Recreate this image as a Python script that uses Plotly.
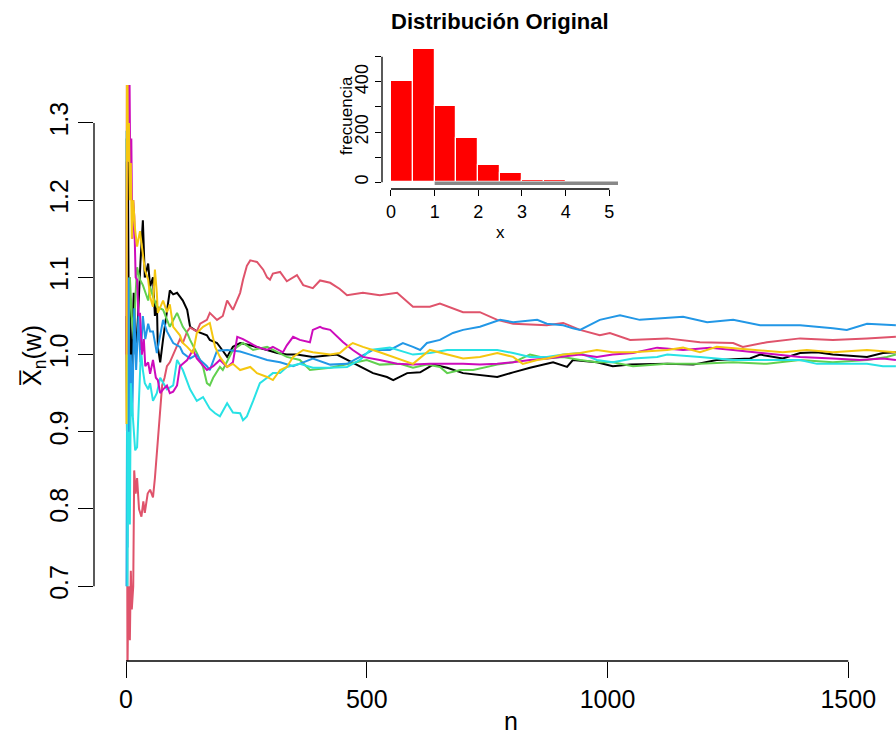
import plotly.graph_objects as go

# ---------------- data ----------------
black_n = [1, 2, 3, 4, 6, 8, 10, 13, 16, 20, 25, 30, 35, 39, 46, 50, 56, 60, 64, 66, 71, 77, 85, 91, 98, 106, 112, 118, 127, 133, 147, 154, 168, 174, 189, 201, 210, 222, 237, 258, 272, 293, 314, 334, 355, 388, 438, 459, 492, 513, 542, 555, 584, 611, 638, 667, 700, 735, 771, 804, 839, 887, 916, 928, 978, 1011, 1047, 1124, 1178, 1227, 1296, 1317, 1364, 1400, 1435, 1468, 1539, 1572, 1599]
black_v = [1.05, 0.9, 1.2, 1.25, 1.0, 1.1, 0.95, 1.02, 1.08, 1.0, 1.05, 1.12, 1.174, 1.10, 1.118, 1.088, 1.1, 1.05, 1.07, 1.01, 0.99, 1.02, 1.06, 1.083, 1.078, 1.08, 1.075, 1.07, 1.058, 1.036, 1.03, 1.028, 1.025, 1.019, 1.015, 1.005, 0.997, 1.01, 1.015, 1.012, 1.01, 1.006, 1.002, 1.0, 1.0, 0.997, 1.0, 0.993, 0.983, 0.976, 0.971, 0.967, 0.976, 0.977, 0.987, 0.983, 0.976, 0.974, 0.971, 0.977, 0.983, 0.99, 0.984, 0.993, 0.99, 0.985, 0.987, 0.988, 0.987, 0.993, 0.995, 1.0, 0.995, 1.002, 1.003, 1.0, 0.997, 1.002, 1.003]

red_n = [1, 2, 3, 4, 6, 8, 10, 12, 15, 17, 20, 23, 27, 32, 36, 39, 45, 50, 56, 60, 64, 68, 72, 75, 80, 85, 91, 98, 106, 112, 118, 127, 133, 147, 154, 168, 174, 189, 201, 210, 222, 237, 243, 251, 258, 272, 285, 293, 299, 305, 320, 334, 355, 368, 388, 403, 424, 444, 459, 492, 527, 563, 596, 631, 652, 700, 735, 771, 804, 874, 908, 943, 984, 1005, 1047, 1124, 1192, 1261, 1281, 1331, 1400, 1468, 1539, 1599]
red_v = [1.25, 0.62, 0.58, 0.65, 0.7, 0.63, 0.72, 0.67, 0.7, 0.85, 0.82, 0.84, 0.8, 0.79, 0.81, 0.795, 0.82, 0.825, 0.815, 0.84, 0.87, 0.9, 0.93, 0.96, 0.97, 0.985, 0.99, 1.0, 1.01, 1.02, 1.015, 1.03, 1.035, 1.03, 1.04, 1.045, 1.054, 1.045, 1.05, 1.07, 1.058, 1.08, 1.097, 1.115, 1.122, 1.12, 1.11, 1.1, 1.097, 1.105, 1.107, 1.095, 1.103, 1.09, 1.086, 1.096, 1.093, 1.085, 1.077, 1.08, 1.077, 1.08, 1.062, 1.062, 1.066, 1.055, 1.055, 1.045, 1.04, 1.038, 1.041, 1.032, 1.025, 1.028, 1.019, 1.021, 1.016, 1.015, 1.01, 1.016, 1.021, 1.019, 1.021, 1.023]

green_n = [1, 2, 3, 5, 8, 12, 16, 20, 23, 29, 35, 46, 50, 56, 64, 77, 85, 91, 106, 118, 127, 133, 147, 160, 168, 174, 181, 195, 201, 222, 243, 264, 293, 334, 361, 382, 424, 459, 500, 527, 569, 596, 625, 652, 667, 694, 721, 771, 804, 839, 874, 908, 943, 978, 1011, 1053, 1124, 1192, 1261, 1331, 1400, 1468, 1539, 1580, 1599]
green_v = [1.28, 0.95, 1.05, 0.98, 1.1, 1.05, 1.02, 1.08, 1.113, 1.097, 1.09, 1.07, 1.088, 1.075, 1.062, 1.058, 1.045, 1.036, 1.054, 1.036, 1.028, 1.019, 1.002, 0.984, 0.963, 0.96, 0.97, 0.984, 0.98, 1.006, 1.015, 1.006, 1.01, 0.997, 0.993, 0.98, 0.983, 0.988, 0.993, 0.987, 0.988, 0.983, 0.987, 0.984, 0.976, 0.98, 0.98, 0.987, 0.99, 1.0, 0.995, 0.997, 0.993, 0.99, 0.99, 0.985, 0.988, 0.988, 0.99, 0.988, 0.993, 0.99, 0.993, 0.997, 1.0]

blue_n = [1, 2, 3, 5, 7, 10, 13, 17, 21, 26, 30, 35, 40, 46, 50, 56, 64, 77, 85, 98, 112, 118, 133, 147, 154, 168, 174, 189, 210, 237, 258, 293, 320, 347, 368, 388, 424, 459, 486, 513, 548, 575, 596, 611, 625, 652, 679, 700, 735, 762, 777, 804, 854, 874, 908, 928, 943, 984, 1011, 1026, 1067, 1157, 1207, 1261, 1317, 1400, 1468, 1497, 1539, 1599]
blue_v = [0.7, 0.9, 0.75, 1.1, 0.85, 1.0, 0.92, 1.06, 0.98, 1.05, 0.99, 1.05, 1.02, 1.04, 1.03, 1.03, 1.002, 1.045, 1.03, 1.015, 1.01, 1.002, 0.995, 1.0, 0.993, 0.985, 0.98, 1.005, 1.006, 1.004, 1.0, 0.993, 0.99, 0.985, 0.99, 0.995, 0.987, 0.988, 0.997, 1.006, 1.006, 1.015, 1.01, 1.006, 1.015, 1.019, 1.028, 1.032, 1.036, 1.042, 1.045, 1.042, 1.045, 1.04, 1.038, 1.034, 1.032, 1.045, 1.049, 1.051, 1.045, 1.049, 1.042, 1.045, 1.038, 1.038, 1.034, 1.032, 1.04, 1.038]

cyan_n = [1, 2, 3, 4, 6, 8, 10, 13, 16, 19, 23, 27, 31, 35, 39, 46, 50, 56, 64, 71, 85, 98, 106, 118, 133, 147, 160, 174, 185, 195, 210, 222, 237, 243, 251, 264, 278, 293, 305, 320, 334, 361, 388, 424, 459, 486, 507, 548, 596, 631, 667, 700, 735, 771, 804, 839, 874, 908, 943, 978, 1011, 1053, 1103, 1124, 1192, 1261, 1331, 1400, 1435, 1468, 1539, 1572, 1599]
cyan_v = [1.29, 0.75, 0.7, 0.85, 0.9, 0.78, 0.963, 0.93, 0.9, 0.876, 0.88, 0.95, 1.006, 0.98, 0.963, 0.955, 0.963, 0.94, 0.95, 0.97, 0.955, 0.96, 0.993, 0.98, 0.955, 0.94, 0.945, 0.93, 0.924, 0.92, 0.937, 0.925, 0.924, 0.915, 0.92, 0.94, 0.963, 0.97, 0.976, 0.976, 0.984, 0.988, 0.983, 0.983, 0.984, 0.993, 1.006, 1.009, 1.0, 1.002, 1.006, 1.006, 1.006, 1.006, 1.002, 0.997, 0.997, 1.0, 1.002, 0.993, 0.99, 0.995, 0.997, 1.0, 0.997, 0.993, 0.993, 0.993, 0.988, 0.988, 0.988, 0.985, 0.985]

magenta_n = [1, 2, 3, 4, 5, 7, 9, 11, 13, 15, 17, 20, 23, 26, 29, 33, 37, 40, 46, 50, 56, 62, 66, 71, 77, 85, 91, 98, 106, 112, 127, 139, 147, 154, 168, 181, 195, 210, 222, 231, 243, 258, 272, 293, 305, 326, 334, 347, 361, 382, 388, 403, 409, 424, 438, 451, 471, 492, 527, 563, 596, 631, 667, 700, 735, 771, 804, 839, 874, 908, 943, 978, 1011, 1053, 1103, 1157, 1213, 1261, 1310, 1364, 1400, 1468, 1524, 1572, 1599]
magenta_v = [1.0, 1.4, 1.36, 1.38, 1.3, 1.38, 1.22, 1.28, 1.15, 1.2, 1.18, 1.1, 1.097, 1.05, 1.054, 1.0, 1.02, 0.985, 0.99, 0.975, 0.993, 0.97, 0.967, 0.95, 0.955, 0.96, 0.95, 0.952, 0.96, 0.985, 0.993, 1.006, 0.995, 0.99, 0.98, 0.985, 0.993, 0.984, 0.99, 1.023, 1.02, 1.015, 1.01, 1.006, 1.01, 1.003, 1.012, 1.023, 1.019, 1.016, 1.032, 1.036, 1.034, 1.032, 1.023, 1.016, 1.006, 0.997, 0.993, 0.988, 0.987, 0.988, 0.988, 0.988, 0.987, 0.988, 0.99, 0.993, 0.995, 0.997, 1.0, 0.997, 1.0, 1.002, 1.009, 1.006, 1.009, 1.006, 1.003, 1.0, 0.997, 0.995, 0.993, 0.995, 0.993]

yellow_n = [1, 2, 3, 4, 6, 8, 10, 12, 15, 19, 23, 29, 35, 39, 46, 50, 56, 60, 64, 66, 77, 85, 91, 98, 112, 118, 127, 139, 147, 160, 174, 185, 195, 210, 222, 237, 258, 272, 293, 305, 320, 334, 347, 368, 388, 424, 444, 459, 471, 492, 527, 555, 596, 631, 667, 700, 735, 771, 804, 824, 854, 874, 908, 943, 978, 1011, 1053, 1124, 1157, 1192, 1227, 1296, 1364, 1414, 1468, 1539, 1599]
yellow_v = [0.91, 1.5, 1.38, 1.25, 1.3, 1.2, 1.248, 1.15, 1.2, 1.161, 1.14, 1.16, 1.13, 1.11, 1.097, 1.075, 1.062, 1.11, 1.08, 1.054, 1.07, 1.055, 1.065, 1.036, 1.025, 1.015, 1.01, 1.002, 1.028, 1.036, 1.041, 1.01, 0.997, 0.984, 0.988, 0.98, 0.984, 0.976, 0.971, 0.967, 0.98, 0.984, 0.997, 1.006, 1.003, 1.0, 1.002, 1.01, 1.015, 1.01, 1.003, 0.997, 0.988, 1.006, 1.0, 0.995, 0.997, 1.002, 0.997, 0.988, 0.993, 0.995, 1.0, 1.002, 1.006, 1.003, 1.003, 1.006, 1.009, 1.003, 1.01, 1.006, 1.003, 1.006, 1.003, 1.006, 1.003]

series = [
    ("black", black_n, black_v, "#000000"),
    ("red", red_n, red_v, "#DF536B"),
    ("green", green_n, green_v, "#61D04F"),
    ("blue", blue_n, blue_v, "#2297E6"),
    ("cyan", cyan_n, cyan_v, "#28E2E5"),
    ("magenta", magenta_n, magenta_v, "#CD0BBC"),
    ("yellow", yellow_n, yellow_v, "#F5C710"),
]

# histogram of the original distribution
hist_left = [0.0, 0.5, 1.0, 1.5, 2.0, 2.5, 3.0, 3.5, 4.0, 4.5]
hist_counts = [404, 532, 303, 176, 70, 36, 10, 8, 2, 1]
main_xticks = [0, 500, 1000, 1500]
main_yticks = [0.7, 0.8, 0.9, 1.0, 1.1, 1.2, 1.3]
inset_xticks = [0, 1, 2, 3, 4, 5]
inset_ylabeled = [0, 200, 400]
inset_yminor = [100, 300, 500]
baseline_x = [1.0, 5.2]
baseline_y = [-4, -4]

# ---------------- figure ----------------
W, H = 896, 734
FONT = "Liberation Sans, Arial, Helvetica, sans-serif"

fig = go.Figure()
for name, xs, ys, col in series:
    fig.add_trace(go.Scatter(x=xs, y=ys, mode="lines", name=name,
                             line=dict(color=col, width=2), xaxis="x", yaxis="y",
                             showlegend=False, hoverinfo="skip"))

fig.add_trace(go.Bar(x=[l + 0.25 for l in hist_left], y=hist_counts, width=0.5,
                     marker=dict(color="#FF0000", line=dict(color="white", width=1.2)),
                     xaxis="x2", yaxis="y2", showlegend=False, hoverinfo="skip"))
fig.add_trace(go.Scatter(x=baseline_x, y=baseline_y, mode="lines",
                         line=dict(color="#888888", width=3.5), xaxis="x2", yaxis="y2",
                         showlegend=False, hoverinfo="skip"))

def px_x(p):
    return p / W

def px_y(p):
    return (H - p) / H

axis_common = dict(showgrid=False, zeroline=False, showline=False, ticks="outside",
                   tickcolor="black", tickwidth=1.3, automargin=False)

fig.update_layout(
    width=W, height=H,
    margin=dict(l=0, r=0, t=0, b=0, autoexpand=False),
    paper_bgcolor="white", plot_bgcolor="white",
    bargap=0,
    xaxis=dict(domain=[px_x(94), 1.0], range=[-66.5, 1599.2],
               tickvals=main_xticks, ticktext=[str(v) for v in main_xticks],
               ticklen=16, tickfont=dict(family=FONT, size=25, color="black"), **axis_common),
    yaxis=dict(domain=[px_y(661), px_y(85)], range=[0.6031, 1.3492],
               tickvals=main_yticks, ticktext=[f"{v:.1f}" for v in main_yticks],
               ticklen=15, tickangle=-90,
               tickfont=dict(family=FONT, size=25, color="black"), **axis_common),
    xaxis2=dict(domain=[px_x(382), px_x(618)], range=[-0.206, 5.199], anchor="y2",
                tickvals=inset_xticks, ticktext=[str(v) for v in inset_xticks],
                ticklen=6, tickfont=dict(family=FONT, size=18, color="black"), **axis_common),
    yaxis2=dict(domain=[px_y(189), px_y(43)], range=[-26.7, 554.5], anchor="x2",
                tickvals=inset_ylabeled, ticktext=[str(v) for v in inset_ylabeled],
                tickangle=-90, ticklen=6,
                minor=dict(tickvals=inset_yminor, ticks="outside", ticklen=6,
                           tickcolor="black", tickwidth=1.3, showgrid=False),
                tickfont=dict(family=FONT, size=18, color="black"), **axis_common),
)

# R-style axis lines spanning first to last tick
shape_line = dict(color="black", width=1.3)
fig.add_shape(type="line", xref="x domain", yref="y", x0=0, x1=0,
              y0=main_yticks[0], y1=main_yticks[-1], line=shape_line)
fig.add_shape(type="line", xref="x", yref="y domain", x0=main_xticks[0], x1=main_xticks[-1],
              y0=0, y1=0, line=shape_line)
fig.add_shape(type="line", xref="x2 domain", yref="y2", x0=0, x1=0,
              y0=inset_ylabeled[0], y1=inset_yminor[-1], line=shape_line)
fig.add_shape(type="line", xref="x2", yref="y2 domain", x0=inset_xticks[0], x1=inset_xticks[-1],
              y0=0, y1=0, line=shape_line)

# titles
fig.add_annotation(text="n", xref="paper", yref="paper", x=px_x(511), y=px_y(721),
                   showarrow=False, font=dict(family=FONT, size=25, color="black"),
                   xanchor="center", yanchor="middle")
fig.add_annotation(text="X\u0305<sub>n</sub>(w)", xref="paper", yref="paper",
                   x=px_x(34), y=px_y(356), textangle=-90, showarrow=False,
                   font=dict(family=FONT, size=25, color="black"),
                   xanchor="center", yanchor="middle")
fig.add_annotation(text="<b>Distribución Original</b>", xref="paper", yref="paper",
                   x=px_x(500), y=px_y(21), showarrow=False,
                   font=dict(family=FONT, size=22, color="black"),
                   xanchor="center", yanchor="middle")
fig.add_annotation(text="x", xref="paper", yref="paper", x=px_x(500), y=px_y(233),
                   showarrow=False, font=dict(family=FONT, size=17, color="black"),
                   xanchor="center", yanchor="middle")
fig.add_annotation(text="frecuencia", xref="paper", yref="paper", x=px_x(346), y=px_y(116),
                   textangle=-90, showarrow=False, font=dict(family=FONT, size=17, color="black"),
                   xanchor="center", yanchor="middle")

fig.write_html("out.html")
